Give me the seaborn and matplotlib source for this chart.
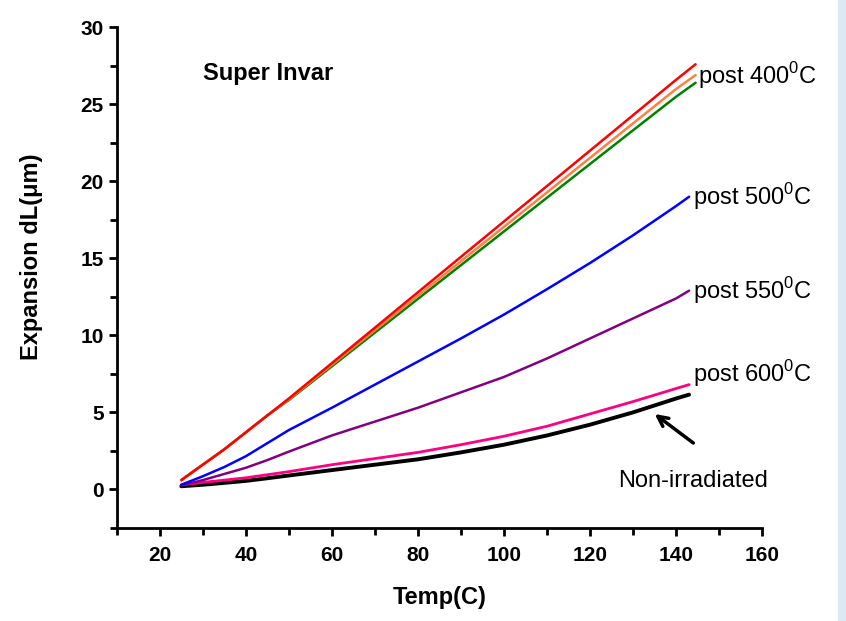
import numpy as np
import pandas as pd
import matplotlib.pyplot as plt
import seaborn as sns
from matplotlib.patches import Rectangle
from matplotlib.ticker import MultipleLocator

# temperature grids (C)
temp_400 = [25, 30, 35, 40, 45, 50, 60, 70, 80, 90, 100, 110, 120, 130, 140, 144.5]
temp_low = [25, 30, 35, 40, 45, 50, 60, 70, 80, 90, 100, 110, 120, 130, 140, 143]

# expansion dL (um)
dl_400_red = [0.6, 1.6, 2.6, 3.7, 4.8, 5.9, 8.2, 10.5, 12.8, 15.1, 17.4, 19.7, 22.0, 24.3, 26.6, 27.6]
dl_400_orange = [0.6, 1.6, 2.6, 3.7, 4.8, 5.85, 8.09, 10.33, 12.57, 14.81, 17.05, 19.29, 21.53, 23.77, 26.0, 26.9]
dl_400_green = [0.6, 1.6, 2.6, 3.7, 4.8, 5.8, 7.99, 10.18, 12.37, 14.56, 16.75, 18.94, 21.13, 23.32, 25.5, 26.4]
dl_500 = [0.3, 0.85, 1.45, 2.15, 3.0, 3.85, 5.3, 6.8, 8.3, 9.8, 11.35, 13.0, 14.7, 16.5, 18.4, 19.0]
dl_550 = [0.25, 0.6, 1.0, 1.4, 1.9, 2.45, 3.5, 4.4, 5.3, 6.3, 7.3, 8.5, 9.8, 11.1, 12.4, 12.9]
dl_600 = [0.3, 0.45, 0.6, 0.75, 0.95, 1.15, 1.6, 2.0, 2.4, 2.9, 3.45, 4.1, 4.9, 5.7, 6.55, 6.8]
dl_nonirr = [0.2, 0.3, 0.42, 0.55, 0.72, 0.9, 1.25, 1.6, 1.95, 2.4, 2.9, 3.5, 4.2, 5.0, 5.9, 6.15]

series = [
    ('400 red', temp_400, dl_400_red, '#ff0000', 1.8),
    ('400 orange', temp_400, dl_400_orange, '#ff8040', 1.8),
    ('400 green', temp_400, dl_400_green, '#008000', 1.8),
    ('500', temp_low, dl_500, '#0000ff', 1.8),
    ('550', temp_low, dl_550, '#800080', 1.8),
    ('600', temp_low, dl_600, '#ff0080', 2.0),
    ('non', temp_low, dl_nonirr, '#000000', 2.8),
]
# draw order: green/orange under red
draw_order = ['non', '600', '550', '500', '400 green', '400 orange', '400 red']

sns.set_style('ticks')
plt.rcParams['font.family'] = ['Liberation Sans', 'DejaVu Sans']
plt.rcParams['mathtext.fontset'] = 'custom'
plt.rcParams['mathtext.rm'] = 'Liberation Sans'
for key in ['text.color', 'axes.labelcolor', 'xtick.color', 'ytick.color', 'axes.edgecolor']:
    plt.rcParams[key] = 'black'

fig = plt.figure(figsize=(8.46, 6.21), dpi=100)
ax = fig.add_axes([0.138, 0.150, 0.763, 0.806])

lookup = {s[0]: s for s in series}
for name in draw_order:
    _, tx, ty, color, lw = lookup[name]
    df = pd.DataFrame({'Temp': tx, 'dL': ty})
    sns.lineplot(data=df, x='Temp', y='dL', color=color, linewidth=lw, ax=ax, sort=False)

ax.set_xlim(10, 160)
ax.set_ylim(-2.5, 30)
ax.xaxis.set_minor_locator(MultipleLocator(10))
ax.yaxis.set_minor_locator(MultipleLocator(2.5))
ax.set_xticks([20, 40, 60, 80, 100, 120, 140, 160])
ax.set_yticks([0, 5, 10, 15, 20, 25, 30])

sns.despine(ax=ax)
for side in ['left', 'bottom']:
    ax.spines[side].set_linewidth(2)
ax.tick_params(which='major', direction='out', length=6, width=2, labelsize=15)
ax.tick_params(which='minor', direction='out', length=5, width=2)
ax.tick_params(axis='x', which='major', pad=7)
for lab in ax.get_xticklabels() + ax.get_yticklabels():
    lab.set_fontweight('bold')

ax.set_xlabel('Temp(C)', fontsize=17, fontweight='bold', labelpad=15)
ax.set_ylabel('Expansion dL(\u03bcm)', fontsize=17, fontweight='bold')
ax.yaxis.set_label_coords(-0.114, 0.541)

ax.text(30.1, 27.0, 'Super Invar', fontsize=17, fontweight='bold', va='center', ha='left')
ax.text(145.0, 26.9, r'post 400$^\mathregular{0}$C', fontsize=17, va='center', ha='left')
ax.text(143.8, 19.0, r'post 500$^\mathregular{0}$C', fontsize=17, va='center', ha='left')
ax.text(143.8, 12.9, r'post 550$^\mathregular{0}$C', fontsize=17, va='center', ha='left')
ax.text(143.8, 7.55, r'post 600$^\mathregular{0}$C', fontsize=17, va='center', ha='left')
ax.text(126.6, 0.55, 'Non-irradiated', fontsize=17, va='center', ha='left')
ax.annotate('', xy=(134.5, 5.0), xytext=(144.5, 2.9),
            arrowprops=dict(arrowstyle='->', color='black', lw=2.5, mutation_scale=18))

# light blue strip at right edge
fig.patches.append(Rectangle((0.991, 0), 0.009, 1, transform=fig.transFigure,
                             facecolor='#dce9f5', edgecolor='none', zorder=-1))

plt.savefig('out.png', dpi=100)
